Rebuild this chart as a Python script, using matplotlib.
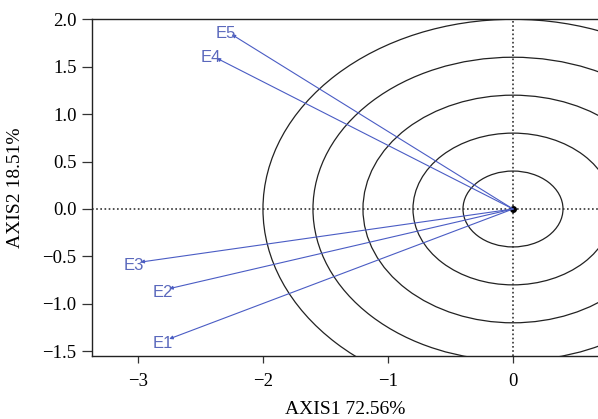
import matplotlib
matplotlib.use("Agg")
import matplotlib.pyplot as plt
from matplotlib.patches import Circle
import numpy as np

# Data
labels = ["E1", "E2", "E3", "E4", "E5"]
axis1 = [-2.75, -2.75, -2.98, -2.37, -2.25]
axis2 = [-1.37, -0.84, -0.56, 1.59, 1.84]
radii = [0.4, 0.8, 1.2, 1.6, 2.0]
xticks = [-3, -2, -1, 0]
yticks = [-1.5, -1.0, -0.5, 0.0, 0.5, 1.0, 1.5, 2.0]

plt.rcParams["font.family"] = ["Liberation Serif", "DejaVu Serif"]

fig = plt.figure(figsize=(5.98, 4.19), dpi=100)
ax = fig.add_axes([91.7 / 598, 1 - 356 / 419, 1 - 91.7 / 598, (356 - 19.3) / 419])

# Concentric circles (unequal aspect makes them ellipses)
for r in radii:
    ax.add_patch(Circle((0, 0), r, fill=False, edgecolor="#222222", lw=0.9))

ax.axhline(0, color="#333333", ls=(0, (1, 1.5)), lw=1.2)
ax.axvline(0, color="#333333", ls=(0, (1, 1.5)), lw=1.2)

line_col = "#4a5cc4"
text_col = "#5a68bc"
for lab, x, y in zip(labels, axis1, axis2):
    ax.annotate("", xy=(x, y), xytext=(0, 0),
                arrowprops=dict(arrowstyle="-|>", color=line_col, lw=0.8,
                                mutation_scale=5, shrinkA=0, shrinkB=0))
    # label just beyond the arrow tip, in the direction of the arrow
    d = ax.transData.transform((x, y)) - ax.transData.transform((0, 0))
    d = d / np.hypot(*d) * 5
    ax.annotate(lab, xy=(x, y), xytext=(d[0], d[1] - 1.5), textcoords="offset points",
                ha="center", va="center", color=text_col, fontsize=12,
                family=["Liberation Sans", "DejaVu Sans"])

ax.plot([0], [0], "o", color="black", ms=4)

ax.set_xlim(-3.37, 0.68)
ax.set_ylim(-1.55, 2.0)
ax.set_xticks(xticks)
ax.set_xticklabels(["\u22123", "\u22122", "\u22121", "0"])
ax.set_yticks(yticks)
ax.set_yticklabels([f"{v:.1f}".replace("-", "\u2212") for v in yticks])
ax.tick_params(axis="both", labelsize=13.5, direction="out", width=0.9, color="#333333")
ax.tick_params(axis="y", length=7, pad=4)
ax.tick_params(axis="x", length=5, pad=7)

ax.spines["right"].set_visible(False)
for s in ["left", "bottom", "top"]:
    ax.spines[s].set_linewidth(1.0)
    ax.spines[s].set_color("#222222")

ax.set_xlabel("AXIS1 72.56%", fontsize=14, labelpad=8)
ax.set_ylabel("AXIS2 18.51%", fontsize=14, labelpad=13)

fig.savefig("out.png", dpi=100)
